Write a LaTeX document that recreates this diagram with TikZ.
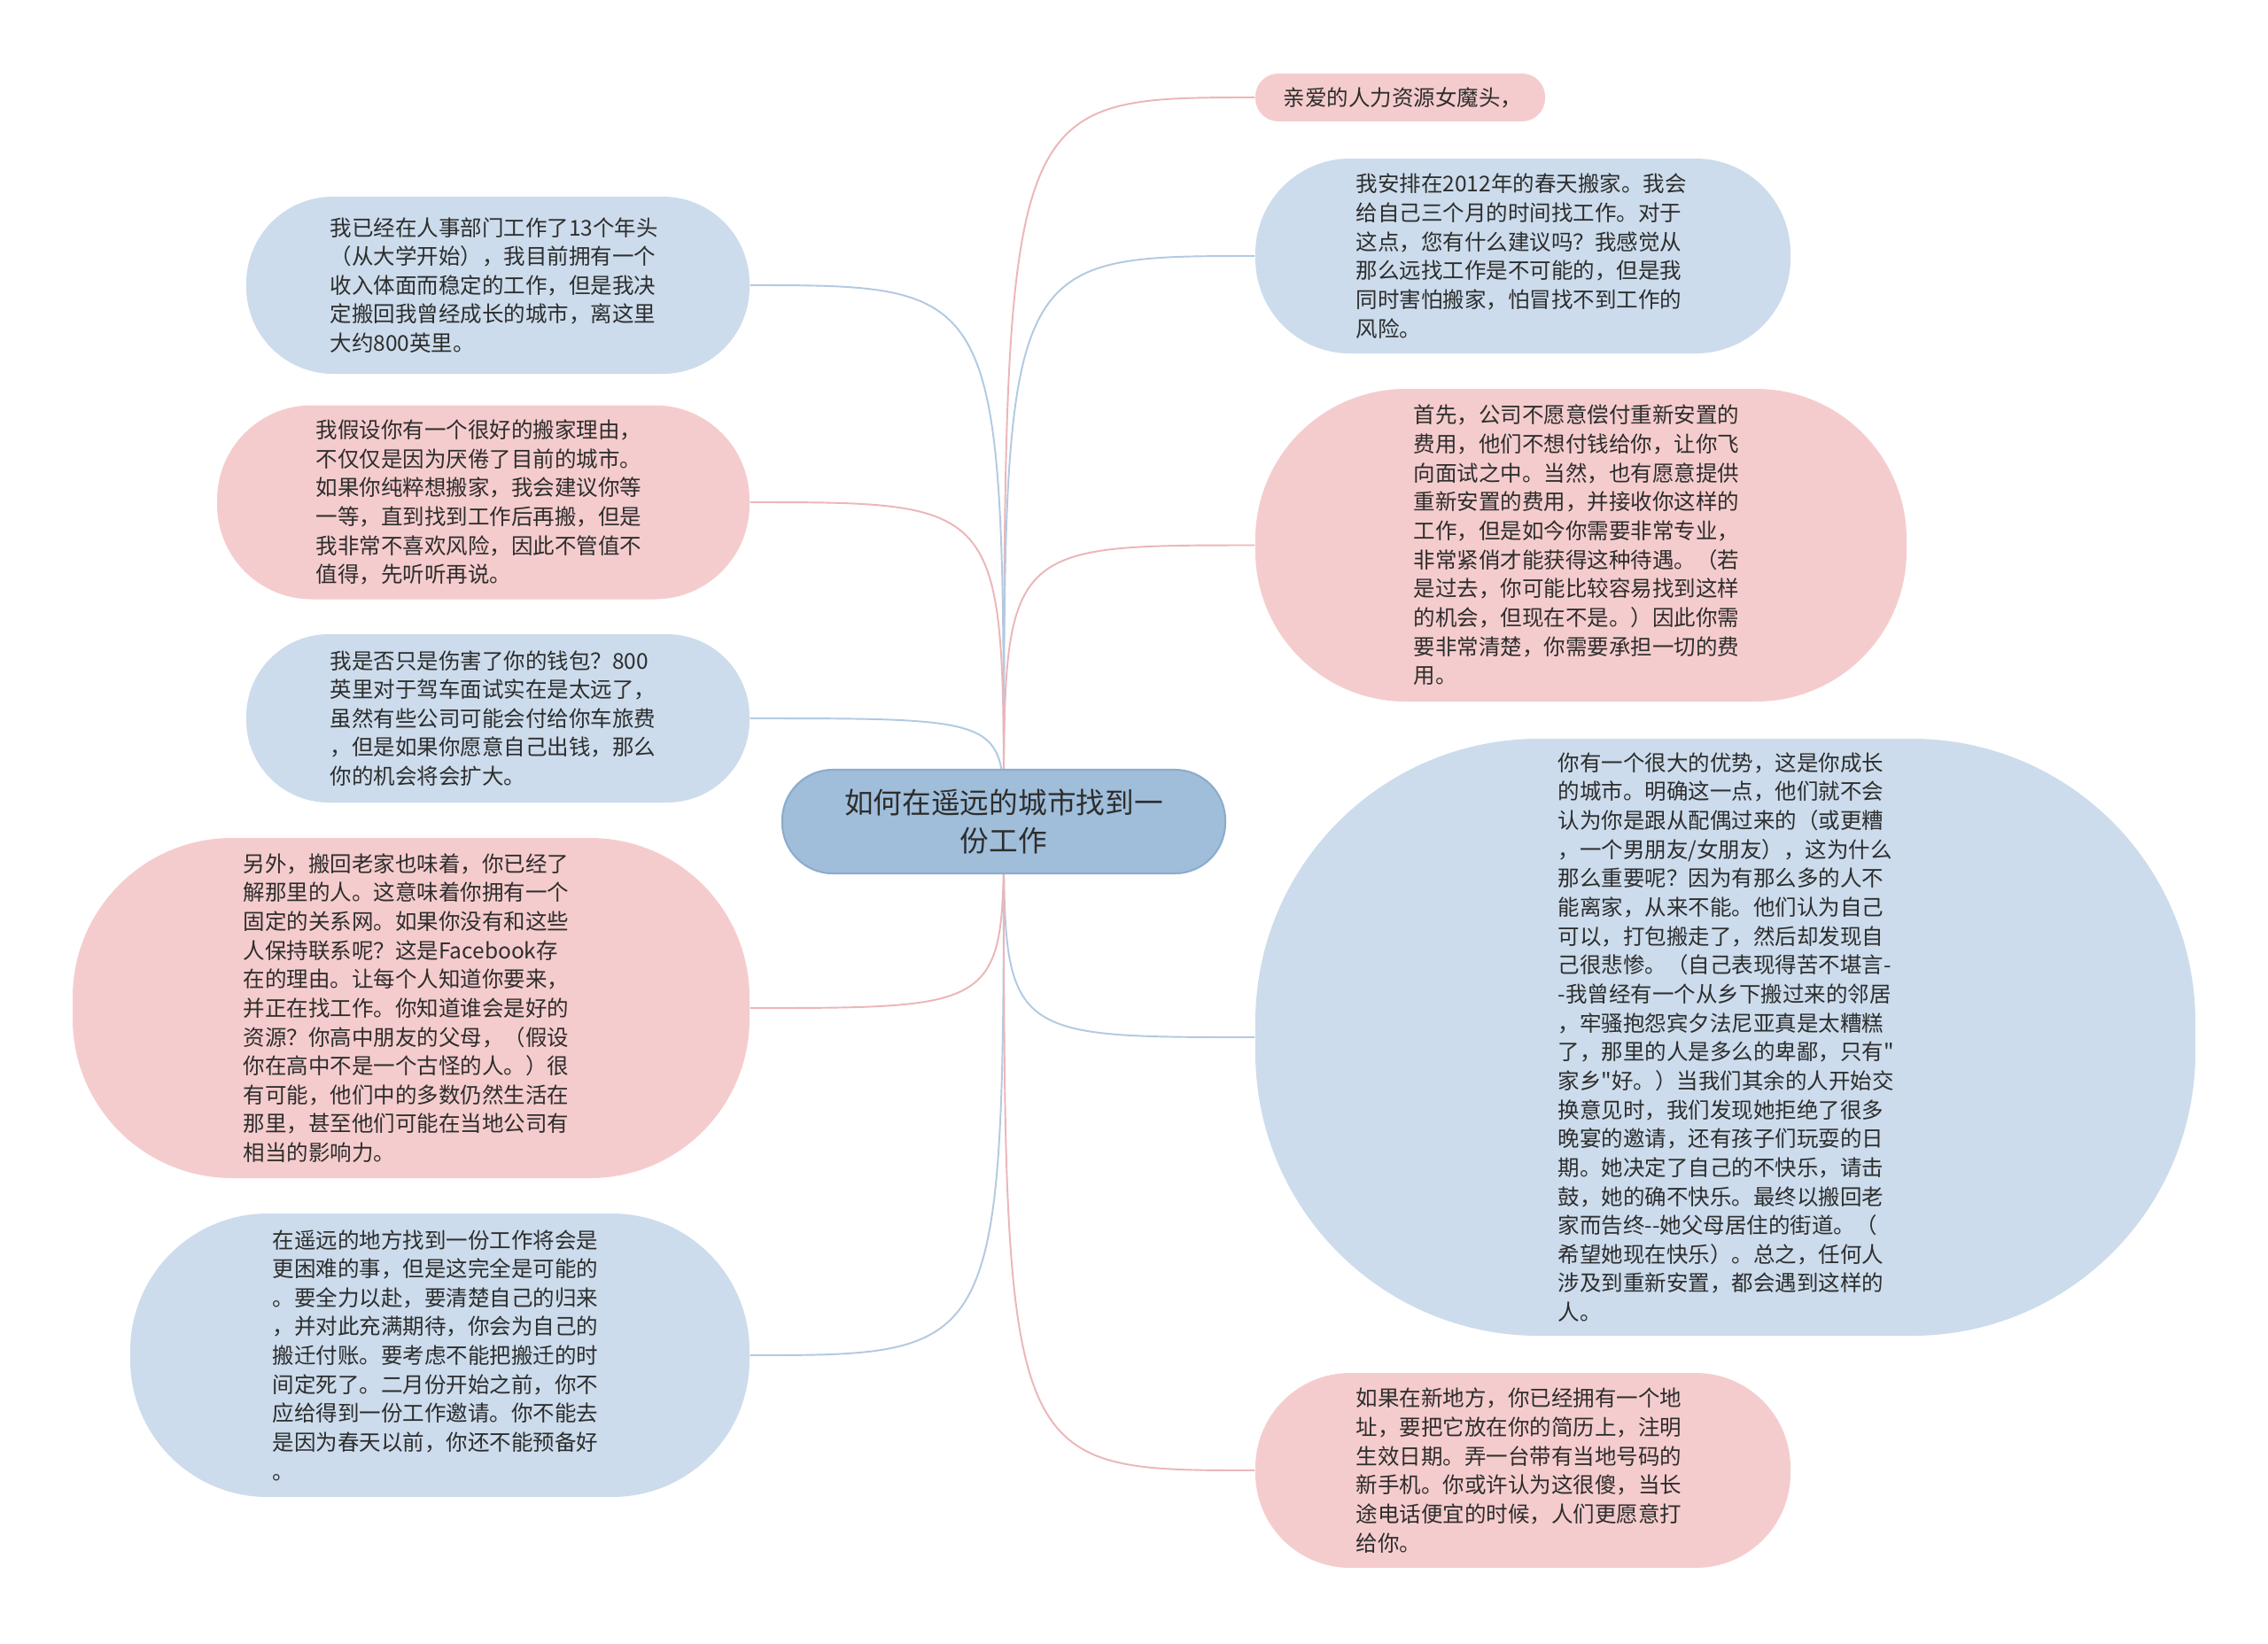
\documentclass[tikz,border=0pt]{standalone}
\usepackage{fontspec}
\setmainfont{Noto Sans CJK SC}[Ligatures=TeXOff]
\usetikzlibrary{backgrounds}
\definecolor{nodeblue}{RGB}{204,220,236}
\definecolor{nodepink}{RGB}{245,204,205}
\definecolor{hubblue}{RGB}{160,190,218}
\definecolor{hubedge}{RGB}{140,172,205}
\definecolor{linkblue}{RGB}{178,202,225}
\definecolor{linkpink}{RGB}{236,182,184}
\definecolor{textgray}{RGB}{45,45,45}
\begin{document}
\begin{tikzpicture}[
    bubble/.style={draw=none, rectangle, inner sep=0pt},
    bluebox/.style={bubble, fill=nodeblue},
    pinkbox/.style={bubble, fill=nodepink},
    hub/.style={draw=hubedge, line width=0.6pt, fill=hubblue, rectangle, rounded corners=0.57cm, minimum width=5cm, minimum height=1.17cm, align=center, text=textgray, font=\fontsize{9.3pt}{12.1pt}\selectfont},
    txt/.style={anchor=west, align=left, inner sep=0pt, text=textgray, font=\fontsize{6.97pt}{9.29pt}\selectfont},
    link/.style={line width=0.55pt}
]
\useasboundingbox (0,0) rectangle (25.6,-18.55);
% Central topic
\node[hub] (hub) at (11.33,-9.275) {如何在遥远的城市找到一\\份工作};
% Left branches
\node[bluebox, minimum width=5.68cm, minimum height=2.00cm, rounded corners=0.98cm] (l1) at (5.62,-3.22) {};
\node[txt] (t-l1) at (3.72,-3.22) {我已经在人事部门工作了13个年头\\（从大学开始），我目前拥有一个\\收入体面而稳定的工作，但是我决\\定搬回我曾经成长的城市，离这里\\大约800英里。};
\node[pinkbox, minimum width=6.01cm, minimum height=2.19cm, rounded corners=1.07cm] (l2) at (5.455,-5.67) {};
\node[txt] (t-l2) at (3.56,-5.67) {我假设你有一个很好的搬家理由，\\不仅仅是因为厌倦了目前的城市。\\如果你纯粹想搬家，我会建议你等\\一等，直到找到工作后再搬，但是\\我非常不喜欢风险，因此不管值不\\值得，先听听再说。};
\node[bluebox, minimum width=5.68cm, minimum height=1.90cm, rounded corners=0.93cm] (l3) at (5.62,-8.11) {};
\node[txt] (t-l3) at (3.72,-8.11) {我是否只是伤害了你的钱包？800\\英里对于驾车面试实在是太远了，\\虽然有些公司可能会付给你车旅费\\，但是如果你愿意自己出钱，那么\\你的机会将会扩大。};
\node[pinkbox, minimum width=7.64cm, minimum height=3.84cm, rounded corners=1.8cm] (l4) at (4.64,-11.38) {};
\node[txt] (t-l4) at (2.74,-11.38) {另外，搬回老家也味着，你已经了\\解那里的人。这意味着你拥有一个\\固定的关系网。如果你没有和这些\\人保持联系呢？这是Facebook存\\在的理由。让每个人知道你要来，\\并正在找工作。你知道谁会是好的\\资源？你高中朋友的父母，（假设\\你在高中不是一个古怪的人。）很\\有可能，他们中的多数仍然生活在\\那里，甚至他们可能在当地公司有\\相当的影响力。};
\node[bluebox, minimum width=6.99cm, minimum height=3.20cm, rounded corners=1.55cm] (l5) at (4.965,-15.30) {};
\node[txt] (t-l5) at (3.07,-15.30) {在遥远的地方找到一份工作将会是\\更困难的事，但是这完全是可能的\\。要全力以赴，要清楚自己的归来\\，并对此充满期待，你会为自己的\\搬迁付账。要考虑不能把搬迁的时\\间定死了。二月份开始之前，你不\\应给得到一份工作邀请。你不能去\\是因为春天以前，你还不能预备好\\。};
% Right branches
\node[pinkbox, minimum width=3.27cm, minimum height=0.54cm, rounded corners=0.26cm] (r1) at (15.805,-1.10) {};
\node[txt] (t-r1) at (14.48,-1.10) {亲爱的人力资源女魔头，};
\node[bluebox, minimum width=6.04cm, minimum height=2.20cm, rounded corners=1.07cm] (r2) at (17.19,-2.89) {};
\node[txt] (t-r2) at (15.30,-2.89) {我安排在2012年的春天搬家。我会\\给自己三个月的时间找工作。对于\\这点，您有什么建议吗？我感觉从\\那么远找工作是不可能的，但是我\\同时害怕搬家，怕冒找不到工作的\\风险。};
\node[pinkbox, minimum width=7.35cm, minimum height=3.53cm, rounded corners=1.7cm] (r3) at (17.845,-6.155) {};
\node[txt] (t-r3) at (15.95,-6.155) {首先，公司不愿意偿付重新安置的\\费用，他们不想付钱给你，让你飞\\向面试之中。当然，也有愿意提供\\重新安置的费用，并接收你这样的\\工作，但是如今你需要非常专业，\\非常紧俏才能获得这种待遇。（若\\是过去，你可能比较容易找到这样\\的机会，但现在不是。）因此你需\\要非常清楚，你需要承担一切的费\\用。};
\node[bluebox, minimum width=10.61cm, minimum height=6.74cm, rounded corners=3.2cm] (r4) at (19.475,-11.71) {};
\node[txt] (t-r4) at (17.58,-11.71) {你有一个很大的优势，这是你成长\\的城市。明确这一点，他们就不会\\认为你是跟从配偶过来的（或更糟\\，一个男朋友/女朋友），这为什么\\那么重要呢？因为有那么多的人不\\能离家，从来不能。他们认为自己\\可以，打包搬走了，然后却发现自\\己很悲惨。（自己表现得苦不堪言-\\-我曾经有一个从乡下搬过来的邻居\\，牢骚抱怨宾夕法尼亚真是太糟糕\\了，那里的人是多么的卑鄙，只有"\\家乡"好。）当我们其余的人开始交\\换意见时，我们发现她拒绝了很多\\晚宴的邀请，还有孩子们玩耍的日\\期。她决定了自己的不快乐，请击\\鼓，她的确不快乐。最终以搬回老\\家而告终--她父母居住的街道。（\\希望她现在快乐）。总之，任何人\\涉及到重新安置，都会遇到这样的\\人。};
\node[pinkbox, minimum width=6.04cm, minimum height=2.20cm, rounded corners=1.07cm] (r5) at (17.19,-16.60) {};
\node[txt] (t-r5) at (15.30,-16.60) {如果在新地方，你已经拥有一个地\\址，要把它放在你的简历上，注明\\生效日期。弄一台带有当地号码的\\新手机。你或许认为这很傻，当长\\途电话便宜的时候，人们更愿意打\\给你。};
% Links
\begin{scope}[on background layer]
\fill[white] (0,0) rectangle (25.6,-18.55);
\foreach \n/\c in {l1/linkblue, l2/linkpink, l3/linkblue, l4/linkpink, l5/linkblue}
  \draw[link, \c] (hub.center) .. controls (hub.center |- \n.east) .. (\n.east);
\foreach \n/\c in {r1/linkpink, r2/linkblue, r3/linkpink, r4/linkblue, r5/linkpink}
  \draw[link, \c] (hub.center) .. controls (hub.center |- \n.west) .. (\n.west);
\end{scope}
\end{tikzpicture}
\end{document}
